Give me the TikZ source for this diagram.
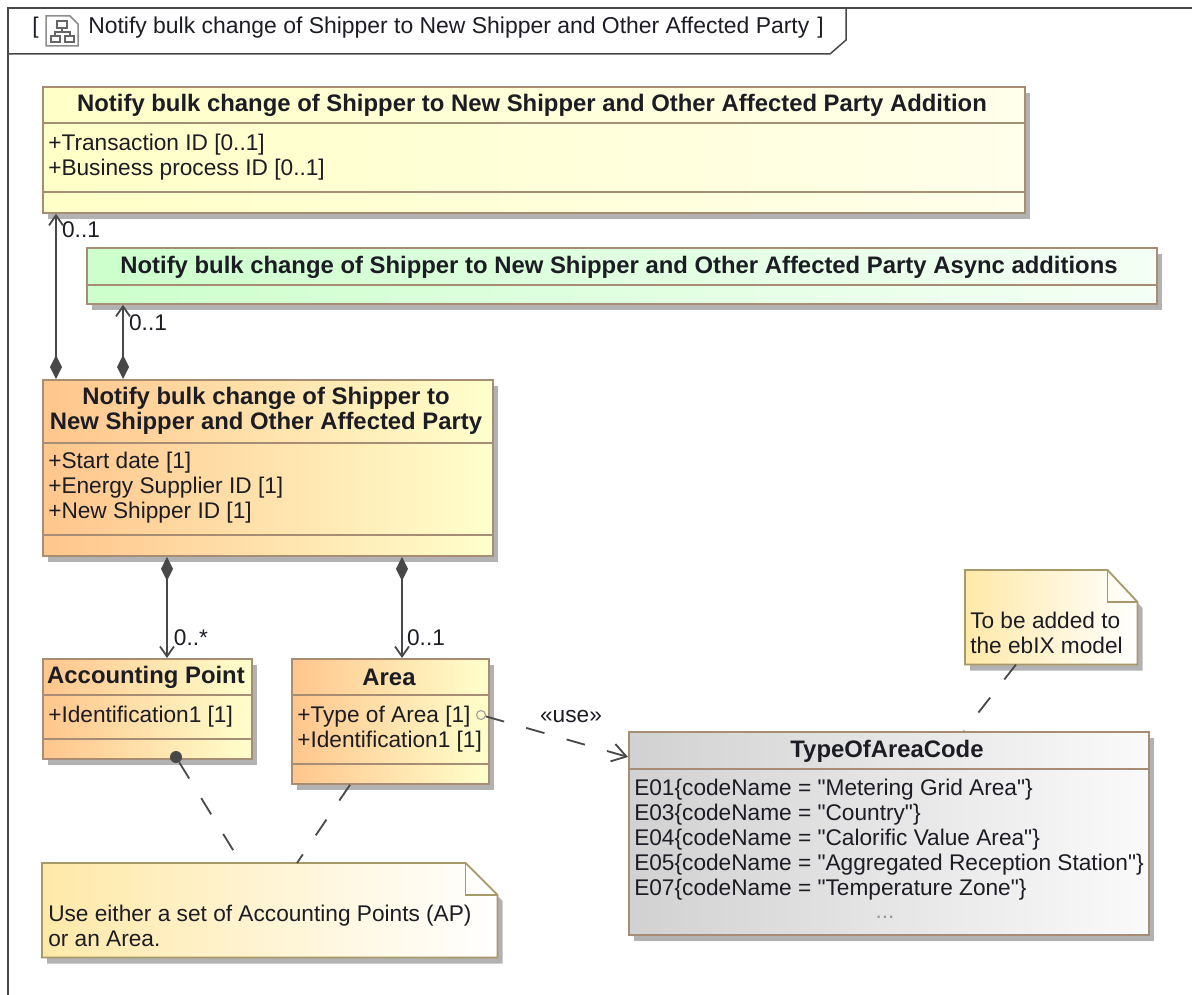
\documentclass[tikz,border=0pt]{standalone}
\usepackage{fontspec}
\setmainfont{Liberation Sans}[Ligatures=TeXOff]
\usetikzlibrary{calc, arrows.meta, shadows}

\newcommand{\px}{0.75pt}
\newcommand{\sepline}[2]{\draw[boxline] ($(#1.north west)+(0,#2)$) -- ($(#1.north east)+(0,#2)$);}

\definecolor{edgebrown}{HTML}{A68D73}
\definecolor{edgenote}{HTML}{A89A68}
\definecolor{linegray}{HTML}{484848}
\definecolor{txtdark}{HTML}{1C1C24}
\definecolor{notestart}{HTML}{FFE9A8}

\tikzset{
	boxline/.style={draw=edgebrown, line width=1.8*\px},
	classbox/.style 2 args={boxline, rectangle, anchor=north west, inner sep=0pt, minimum width=#1*\px, minimum height=#2*\px,
		drop shadow={shadow xshift=5*\px, shadow yshift=-6*\px, fill=black, opacity=0.3}},
	addbox/.style={left color=yellow!22!white, right color=yellow!8!white},
	asyncbox/.style={left color=green!20!white, right color=green!4!white},
	mainbox/.style={left color=orange!45!white, right color=yellow!20!white},
	codebox/.style={left color=black!18, right color=black!2},
	title/.style={font=\fontsize{17.9}{18.75}\selectfont\bfseries, text=txtdark, align=center, inner sep=0pt},
	attr/.style={font=\fontsize{17}{18.75}\selectfont, text=txtdark, align=left, anchor=north west, inner sep=0pt},
	mult/.style={font=\fontsize{17}{18.75}\selectfont, text=txtdark, inner sep=0pt},
	notebox/.style={anchor=north west, inner sep=0pt, minimum width=#1*\px},
	notefill/.style={draw=edgenote, line width=1.8*\px, left color=notestart, right color=white,
		drop shadow={shadow xshift=5*\px, shadow yshift=-6*\px, fill=black, opacity=0.3}},
	compose/.style={linegray, line width=1.8*\px, {Diamond[length=24*\px, width=12*\px]}-{Straight Barb[length=10*\px, width=14*\px]}},
	anchorline/.style={linegray, line width=1.8*\px, dash pattern=on 19*\px off 23*\px},
}

\begin{document}
\begin{tikzpicture}[x=\px, y=-\px]
	\useasboundingbox (0,0) rectangle (1192,995);

	% frame
	\draw[linegray, line width=1.5*\px] (8,995) -- (8,8) -- (1192,8);
	\draw[linegray, line width=1.5*\px] (8,54) -- (830,54) -- (846,40) -- (846,8);
	\node[attr, anchor=west] (open) at (32,28) {[};
	\node[attr, anchor=west, font=\fontsize{17.2}{18.75}\selectfont] (frametitle) at (88,28) {Notify bulk change of Shipper to New Shipper and Other Affected Party};
	\node[attr, anchor=west] (close) at (817,28) {]};
	\draw[black!45, line width=1.5*\px] (46,16) -- (70,16) -- (78,24) -- (78,46) -- (46,46) -- cycle;
	\draw[black!60, line width=1.5*\px] (57,21) rectangle (67,28) (51,36) rectangle (60,42) (65,36) rectangle (74,42) (62,28) -- (62,32) (55,36) -- (55,32) -- (70,32) -- (70,36);

	% classes
	\node[classbox={982}{126}, addbox] (addition) at (42,86) {};
	\node[classbox={1070}{56}, asyncbox] (async) at (86,247) {};
	\node[classbox={450}{176}, mainbox] (main) at (42,379) {};
	\node[classbox={209}{100}, mainbox] (point) at (42,658) {};
	\node[classbox={197}{125}, mainbox] (area) at (291,658) {};
	\node[classbox={520}{203}, codebox] (code) at (628,731) {};

	\sepline{addition}{37}
	\sepline{addition}{106}
	\sepline{async}{38}
	\sepline{main}{64}
	\sepline{main}{156}
	\sepline{point}{37}
	\sepline{point}{81}
	\sepline{area}{37}
	\sepline{area}{106}
	\sepline{code}{38}

	\node[title] (additiontitle) at (532,105) {Notify bulk change of Shipper to New Shipper and Other Affected Party Addition};
	\node[attr] (additionattr) at (48,134) {+Transaction ID [0..1]\\+Business process ID [0..1]};
	\node[title] (asynctitle) at (619,267) {Notify bulk change of Shipper to New Shipper and Other Affected Party Async additions};
	\node[title] (maintitle) at (266,411) {Notify bulk change of Shipper to\\New Shipper and Other Affected Party};
	\node[attr] (mainattr) at (48,452) {+Start date [1]\\+Energy Supplier ID [1]\\+New Shipper ID [1]};
	\node[title] (pointtitle) at (146,677) {Accounting Point};
	\node[attr] (pointattr) at (48,706) {+Identification1 [1]};
	\node[title] (areatitle) at (389,677) {Area};
	\node[attr] (areaattr) at (297,706) {+Type of Area [1]\\+Identification1 [1]};
	\node[title] (codetitle) at (887,751) {TypeOfAreaCode};
	\node[attr] (codeattr) at (634,779) {E01\{codeName = "Metering Grid Area"\}\\E03\{codeName = "Country"\}\\E04\{codeName = "Calorific Value Area"\}\\E05\{codeName = "Aggregated Reception Station"\}\\E07\{codeName = "Temperature Zone"\}};
	\node[mult, text=black!40] (codemore) at (885,917) {...};

	% notes
	\node[notebox=172, minimum height=94*\px] (modelnote) at (965,570) {};
	\path[notefill] (modelnote.north west) -- ($(modelnote.north east)+(-30,0)$) -- ($(modelnote.north east)+(0,32)$) -- (modelnote.south east) -- (modelnote.south west) -- cycle;
	\draw[edgenote, line width=1.8*\px] ($(modelnote.north east)+(-30,0)$) |- ($(modelnote.north east)+(0,32)$);
	\node[attr] (modeltext) at (970,612) {To be added to\\the ebIX model};

	\node[notebox=455, minimum height=94*\px] (usenote) at (42,863) {};
	\path[notefill] (usenote.north west) -- ($(usenote.north east)+(-32,0)$) -- ($(usenote.north east)+(0,32)$) -- (usenote.south east) -- (usenote.south west) -- cycle;
	\draw[edgenote, line width=1.8*\px] ($(usenote.north east)+(-32,0)$) |- ($(usenote.north east)+(0,32)$);
	\node[attr] (usetext) at (48,905) {Use either a set of Accounting Points (AP)\\or an Area.};

	% connectors
	\draw[compose] ($(main.north west)+(14,0)$) -- ($(addition.south west)+(14,0)$);
	\draw[compose] ($(main.north west)+(81,0)$) -- ($(async.south west)+(37,0)$);
	\draw[compose] ($(main.south west)+(125,0)$) -- ($(point.north west)+(125,0)$);
	\draw[compose] ($(main.south west)+(360,0)$) -- ($(area.north west)+(111,0)$);

	\node[mult] (mult1) at (81,230) {0..1};
	\node[mult] (mult2) at (148,323) {0..1};
	\node[mult] (mult3) at (191,638) {0..*};
	\node[mult] (mult4) at (426,638) {0..1};

	\node[draw=black!40, circle, inner sep=0pt, minimum size=9*\px, line width=1*\px] (usedot) at (481,715) {};
	\draw[anchorline, -{Straight Barb[length=14*\px, width=18*\px]}] (usedot) -- ($(code.north west)+(0,26)$);
	\node[mult] (uselabel) at (571,717) {«use»};

	\coordinate (modelend) at ($(modelnote.south west)+(51,0)$);
	\draw[anchorline] (modelend) -- ($(code.north west)+(336,0)$);

	\node[fill=linegray, circle, inner sep=0pt, minimum size=12*\px] (pointdot) at (176,757) {};
	\draw[anchorline] (pointdot) -- ($(usenote.north west)+(199,0)$);
	\draw[anchorline] ($(area.south west)+(59,0)$) -- ($(usenote.north west)+(255,0)$);
\end{tikzpicture}
\end{document}
